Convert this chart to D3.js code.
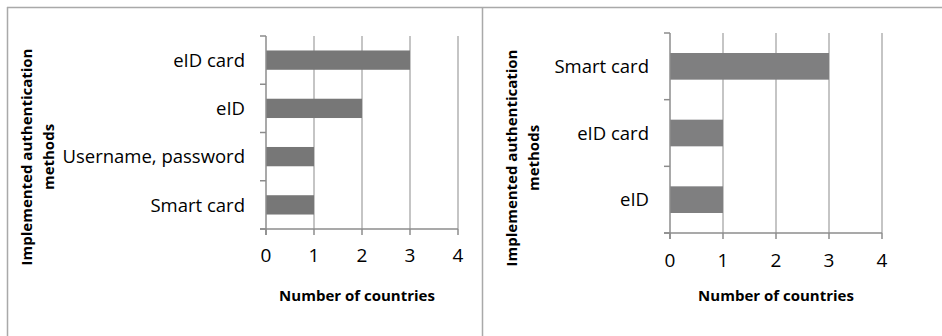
<!DOCTYPE html>
<html><head><meta charset="utf-8">
<script src="https://cdn.jsdelivr.net/npm/d3@7/dist/d3.min.js"></script>
<style>body{margin:0;background:#fff}svg{display:block}</style>
</head><body>
<script>
const leftCategories = ["eID card", "eID", "Username, password", "Smart card"];
const leftValues = [3, 2, 1, 1];
const rightCategories = ["Smart card", "eID card", "eID"];
const rightValues = [3, 1, 1];
const xTicks = [0, 1, 2, 3, 4];
const xTitle = "Number of countries";
const yTitleLines = ["Implemented authentication", "methods"];

const W = 942, H = 336;
const svg = d3.select("body").append("svg").attr("width", W).attr("height", H);
const FONT = "'Open Sans', Lato, sans-serif";

// frame
svg.append("line").attr("x1", 7).attr("x2", W).attr("y1", 7.5).attr("y2", 7.5).attr("stroke", "#a9a9a9").attr("stroke-width", 1.5);
svg.append("line").attr("x1", 7.5).attr("x2", 7.5).attr("y1", 7).attr("y2", H).attr("stroke", "#a9a9a9").attr("stroke-width", 1.5);
svg.append("line").attr("x1", 482.5).attr("x2", 482.5).attr("y1", 7).attr("y2", H).attr("stroke", "#a9a9a9").attr("stroke-width", 1.5);

function panel(cfg) {
  const {cats, vals, x0, x1, y0, y1, labelX, tickBase, titleBase, yt1, yt2, ytCenter, barColor} = cfg;
  const g = svg.append("g");
  const x = d3.scaleLinear().domain([0, 4]).range([x0, x1]);
  const y = d3.scaleBand().domain(cats).range([y0, y1]).paddingInner(0.6).paddingOuter(0.3);
  const yb = d3.scaleBand().domain(cats).range([y0, y1]);

  g.selectAll(".grid").data(xTicks.slice(1)).join("line")
    .attr("x1", d => x(d)).attr("x2", d => x(d)).attr("y1", y0).attr("y2", y1)
    .attr("stroke", "#a6a6a6").attr("stroke-width", 1.3);

  g.selectAll(".bar").data(cats).join("rect")
    .attr("x", x(0)).attr("y", d => y(d))
    .attr("width", (d, i) => x(vals[i]) - x(0)).attr("height", y.bandwidth())
    .attr("fill", barColor);

  g.append("line").attr("x1", x(0)).attr("x2", x(0)).attr("y1", y0).attr("y2", y1 + 6)
    .attr("stroke", "#8c8c8c").attr("stroke-width", 1.5);
  g.append("line").attr("x1", x(0) - 6).attr("x2", x(4)).attr("y1", y1).attr("y2", y1)
    .attr("stroke", "#8c8c8c").attr("stroke-width", 1.5);
  const bounds = cats.map(c => yb(c)).concat([y1]);
  g.selectAll(".ctick").data(bounds).join("line")
    .attr("x1", x(0) - 6).attr("x2", x(0)).attr("y1", d => d).attr("y2", d => d)
    .attr("stroke", "#8c8c8c").attr("stroke-width", 1.5);
  g.selectAll(".xtick").data(xTicks).join("line")
    .attr("x1", d => x(d)).attr("x2", d => x(d)).attr("y1", y1).attr("y2", y1 + 6)
    .attr("stroke", "#8c8c8c").attr("stroke-width", 1.5);

  g.selectAll(".xl").data(xTicks).join("text")
    .attr("x", d => x(d)).attr("y", tickBase).attr("text-anchor", "middle")
    .attr("font-family", FONT).attr("font-size", 19).attr("fill", "#000").text(d => d);

  g.selectAll(".cl").data(cats).join("text")
    .attr("x", labelX).attr("y", d => yb(d) + yb.bandwidth() / 2).attr("dy", "0.36em")
    .attr("text-anchor", "end").attr("font-family", FONT).attr("font-size", 18.5)
    .attr("fill", "#000").text(d => d);

  g.append("text").attr("x", (x0 + x1) / 2 - (cfg.titleShift || 0)).attr("y", titleBase).attr("text-anchor", "middle")
    .attr("font-family", FONT).attr("font-weight", "bold").attr("font-size", 15)
    .attr("fill", "#000").text(xTitle);

  [yt1, yt2].forEach((bx, i) => {
    g.append("text").attr("transform", `translate(${bx},${ytCenter}) rotate(-90)`)
      .attr("text-anchor", "middle").attr("font-family", FONT).attr("font-weight", "bold")
      .attr("font-size", 15).attr("fill", "#000").text(yTitleLines[i]);
  });
}

panel({cats: leftCategories, vals: leftValues, x0: 266, x1: 458, y0: 36, y1: 229,
  labelX: 245, tickBase: 262, titleBase: 301, yt1: 32, yt2: 54, ytCenter: 157, barColor: "#777777", titleShift: 5});
panel({cats: rightCategories, vals: rightValues, x0: 670, x1: 882, y0: 33, y1: 233,
  labelX: 649, tickBase: 267, titleBase: 301, yt1: 517, yt2: 539, ytCenter: 158, barColor: "#7f7f80", titleShift: 0});
</script>
</body></html>
